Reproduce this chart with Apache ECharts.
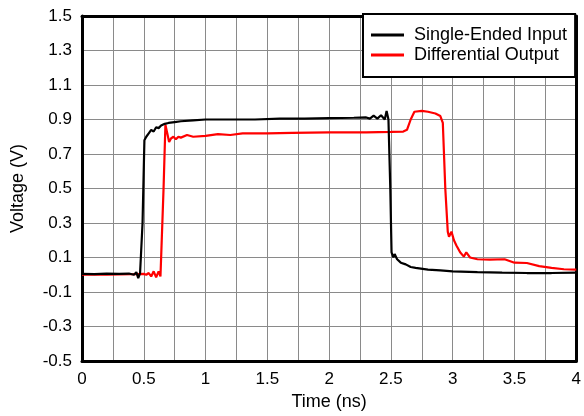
<!DOCTYPE html>
<html>
<head>
<meta charset="utf-8">
<script src="https://cdn.jsdelivr.net/npm/echarts@6/dist/echarts.min.js"></script>
<style>
html,body{margin:0;padding:0;background:#fff;}
#chart{width:584px;height:416px;}
</style>
</head>
<body>
<div id="chart"></div>
<script>
// Time axis (ns) and voltage (V) samples
var inputTime = [0, 0.1, 0.2, 0.3, 0.38, 0.42, 0.44, 0.455, 0.47, 0.49, 0.505, 0.52, 0.54, 0.56, 0.58, 0.6, 0.62, 0.64, 0.67, 0.7, 0.75, 0.8, 0.9, 1.0, 1.2, 1.4, 1.6, 1.8, 2.0, 2.2, 2.3, 2.33, 2.36, 2.39, 2.42, 2.45, 2.465, 2.48, 2.495, 2.505, 2.52, 2.53, 2.55, 2.58, 2.62, 2.66, 2.7, 2.8, 2.9, 3.0, 3.2, 3.4, 3.6, 3.8, 4.0];
var inputVolts = [0.005, 0.004, 0.006, 0.005, 0.007, 0.0, 0.015, -0.02, 0.01, 0.3, 0.78, 0.80, 0.82, 0.84, 0.83, 0.855, 0.85, 0.865, 0.875, 0.88, 0.885, 0.89, 0.895, 0.9, 0.9, 0.9, 0.905, 0.905, 0.908, 0.91, 0.912, 0.905, 0.922, 0.905, 0.925, 0.9, 0.95, 0.9, 0.5, 0.13, 0.10, 0.12, 0.09, 0.07, 0.06, 0.045, 0.04, 0.03, 0.025, 0.02, 0.015, 0.012, 0.01, 0.01, 0.012];

var outputTime = [0, 0.2, 0.4, 0.5, 0.52, 0.54, 0.56, 0.58, 0.6, 0.62, 0.635, 0.645, 0.66, 0.675, 0.69, 0.705, 0.72, 0.74, 0.76, 0.78, 0.8, 0.85, 0.9, 1.0, 1.1, 1.2, 1.3, 1.5, 1.7, 2.0, 2.3, 2.5, 2.6, 2.63, 2.66, 2.69, 2.75, 2.8, 2.86, 2.9, 2.92, 2.94, 2.96, 2.97, 2.99, 3.01, 3.03, 3.06, 3.09, 3.11, 3.14, 3.2, 3.3, 3.42, 3.5, 3.6, 3.7, 3.8, 3.9, 4.0];
var outputVolts = [0.0, 0.0, 0.003, 0.005, 0.0, 0.01, -0.01, 0.02, -0.015, 0.02, -0.01, 0.0, 0.5, 0.87, 0.82, 0.77, 0.79, 0.80, 0.785, 0.80, 0.795, 0.81, 0.80, 0.805, 0.815, 0.81, 0.82, 0.82, 0.822, 0.825, 0.825, 0.828, 0.83, 0.84, 0.90, 0.945, 0.95, 0.945, 0.935, 0.92, 0.88, 0.5, 0.25, 0.22, 0.25, 0.2, 0.17, 0.13, 0.105, 0.13, 0.1, 0.09, 0.088, 0.09, 0.07, 0.068, 0.05, 0.04, 0.032, 0.03];

var seriesNames = ['Single-Ended Input', 'Differential Output'];
var xTitle = 'Time (ns)';
var yTitle = 'Voltage (V)';

function pairs(t, v) { return t.map(function (x, i) { return [x, v[i]]; }); }

var FONT = 'Liberation Sans, Arial, sans-serif';
var chart = echarts.init(document.getElementById('chart'), null, {renderer: 'canvas'});
var frameLine = {show: true, onZero: false, lineStyle: {color: '#000', width: 3}};
chart.setOption({
  animation: false,
  backgroundColor: '#fff',
  grid: {left: 82, right: 6, top: 16, bottom: 55, containLabel: false},
  legend: {
    orient: 'vertical', left: 363, top: 14,
    data: seriesNames,
    icon: 'rect', itemWidth: 33, itemHeight: 3, itemGap: 0,
    padding: [11, 8, 12, 8],
    borderColor: '#000', borderWidth: 2, backgroundColor: '#fff',
    textStyle: {fontFamily: FONT, fontSize: 18, color: '#000', lineHeight: 20, padding: [0, 0, 0, 5]}
  },
  xAxis: [{
    type: 'value', min: 0, max: 4, interval: 0.25,
    name: xTitle, nameLocation: 'middle', nameGap: 31,
    nameTextStyle: {fontFamily: FONT, fontSize: 18, color: '#000'},
    axisLine: frameLine, axisTick: {show: false},
    axisLabel: {fontFamily: FONT, fontSize: 17, color: '#000', margin: 10,
      formatter: function (v) { return Math.abs(v * 2 - Math.round(v * 2)) < 1e-6 ? String(v) : ''; }},
    splitLine: {show: true, lineStyle: {color: '#8a8a8a', width: 1}}
  }, {
    type: 'value', position: 'top', min: 0, max: 4,
    axisLine: frameLine, axisTick: {show: false}, axisLabel: {show: false}, splitLine: {show: false}
  }],
  yAxis: [{
    type: 'value', min: -0.5, max: 1.5, interval: 0.1,
    name: yTitle, nameLocation: 'middle', nameGap: 55,
    nameTextStyle: {fontFamily: FONT, fontSize: 18, color: '#000'},
    axisLine: frameLine, axisTick: {show: false},
    axisLabel: {fontFamily: FONT, fontSize: 17, color: '#000', margin: 10,
      formatter: function (v) { var k = Math.round(v * 10); return Math.abs(k) % 2 === 1 ? (k / 10).toFixed(1) : ''; }},
    splitLine: {show: true, lineStyle: {color: ['#8a8a8a', 'rgba(0,0,0,0)'], width: 1}}
  }, {
    type: 'value', position: 'right', min: -0.5, max: 1.5,
    axisLine: frameLine, axisTick: {show: false}, axisLabel: {show: false}, splitLine: {show: false}
  }],
  series: [{
    name: seriesNames[0], type: 'line', data: pairs(inputTime, inputVolts),
    symbol: 'none', lineStyle: {color: '#000', width: 2.2}, itemStyle: {color: '#000'}, z: 3
  }, {
    name: seriesNames[1], type: 'line', data: pairs(outputTime, outputVolts),
    symbol: 'none', lineStyle: {color: '#ff0000', width: 2.2}, itemStyle: {color: '#ff0000'}, z: 2
  }]
});
</script>
</body>
</html>
